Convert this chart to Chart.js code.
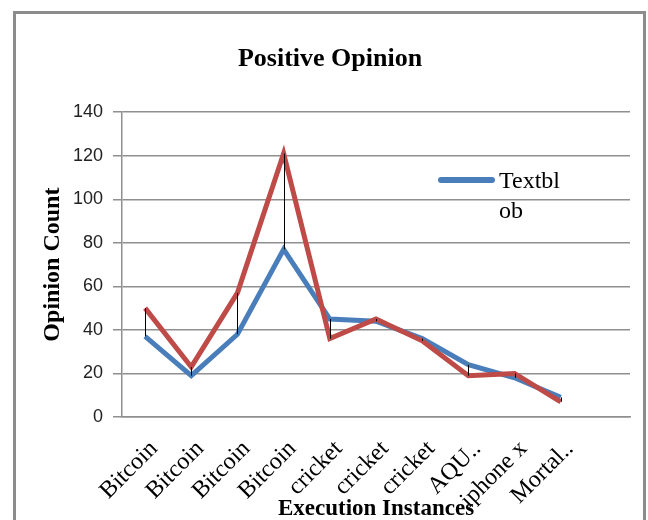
<!DOCTYPE html>
<html>
<head>
<meta charset="utf-8">
<script src="https://cdn.jsdelivr.net/npm/chart.js@4.4.1/dist/chart.umd.min.js"></script>
<style>
  body { margin: 0; background: #fff; }
  #wrap { position: relative; width: 648px; height: 520px; overflow: hidden; }
  #frame { position: absolute; left: 13px; top: 11px; width: 633px; height: 560px; border: 3px solid #8c8c8c; box-sizing: border-box; }
  #legLine { position: absolute; left: 438px; top: 177px; width: 57px; height: 6px; background: #4a7ebb; border-radius: 3px; }
  #legText { position: absolute; left: 499px; top: 165px; font: 24px "Liberation Serif"; line-height: 30px; color: #000; }
  canvas { position: absolute; left: 0; top: 0; }
</style>
</head>
<body>
<div id="wrap">
  <div id="frame"></div>
  <canvas id="chart" width="648" height="520"></canvas>
  <div id="legLine"></div>
  <div id="legText">Textbl<br>ob</div>
</div>
<script>
const labels = ['Bitcoin', 'Bitcoin', 'Bitcoin', 'Bitcoin', 'cricket', 'cricket', 'cricket', 'AQU..', 'iphone x', 'Mortal..', ''];
const textblob = [37, 19, 38, 77, 45, 44, 36, 24, 18, 9, null];
const series2 = [50, 23, 57, 121, 36, 45, 35, 19, 20, 7, null];
const yMin = 0;
const yMax = 140;
const yStep = 20;

// black high-low lines between the two series
const hiLoLines = {
    id: 'hiLoLines',
    afterDatasetsDraw(chart) {
        const a = chart.getDatasetMeta(0).data;
        const b = chart.getDatasetMeta(1).data;
        const ctx = chart.ctx;
        ctx.save();
        ctx.strokeStyle = '#000';
        ctx.lineWidth = 1;
        a.forEach((pt, i) => {
            const q = b[i];
            if (!q || pt.skip || q.skip) return;
            const x = Math.round(pt.x) + 0.5;
            ctx.beginPath();
            ctx.moveTo(x, pt.y);
            ctx.lineTo(x, q.y);
            ctx.stroke();
        });
        ctx.restore();
    }
};

const ctx = document.getElementById('chart').getContext('2d');
const myChart = new Chart(ctx, {
    type: 'line',
    data: {
        labels: labels,
        datasets: [{
            label: 'Textblob',
            data: textblob,
            borderColor: '#4a7ebb',
            borderWidth: 5,
            pointRadius: 0,
            tension: 0,
            order: 2
        }, {
            label: 'Series 2',
            data: series2,
            borderColor: '#be4b48',
            borderWidth: 5,
            pointRadius: 0,
            tension: 0,
            order: 1
        }]
    },
    options: {
        responsive: false,
        animation: false,
        layout: { padding: { left: 30, right: 18, top: 14, bottom: 0 } },
        plugins: {
            legend: { display: false },
            tooltip: { enabled: false },
            title: {
                display: true,
                text: 'Positive Opinion',
                color: '#000',
                font: { family: 'Liberation Serif', size: 26, weight: 'bold' },
                padding: { top: 30, bottom: 37 }
            }
        },
        scales: {
            x: {
                offset: true,
                grid: { display: false, drawTicks: false },
                border: { display: true, color: '#8f8f8f', width: 1.5 },
                ticks: {
                    autoSkip: false,
                    minRotation: 45,
                    maxRotation: 45,
                    color: '#000',
                    padding: 18,
                    labelOffset: 9,
                    font: { family: 'Liberation Serif', size: 24 }
                },
                title: {
                    display: true,
                    text: 'Execution Instances',
                    color: '#000',
                    font: { family: 'Liberation Serif', size: 23, weight: 'bold' },
                    padding: { top: 0, bottom: -3 }
                },
                afterFit: (s) => { s.height = 103; }
            },
            y: {
                min: yMin,
                max: yMax,
                ticks: {
                    stepSize: yStep,
                    color: '#222',
                    padding: 10,
                    font: { family: 'Liberation Sans', size: 18 }
                },
                grid: { color: '#8f8f8f', lineWidth: 1.5, tickLength: 9, tickColor: '#8f8f8f' },
                border: { display: true, color: '#8f8f8f', width: 1.5 },
                title: {
                    display: true,
                    text: 'Opinion Count',
                    color: '#000',
                    font: { family: 'Liberation Serif', size: 24, weight: 'bold' },
                    padding: { top: 8, bottom: 0 }
                },
                afterFit: (s) => { s.width = 92; }
            }
        }
    },
    plugins: [hiLoLines]
});
</script>
</body>
</html>
